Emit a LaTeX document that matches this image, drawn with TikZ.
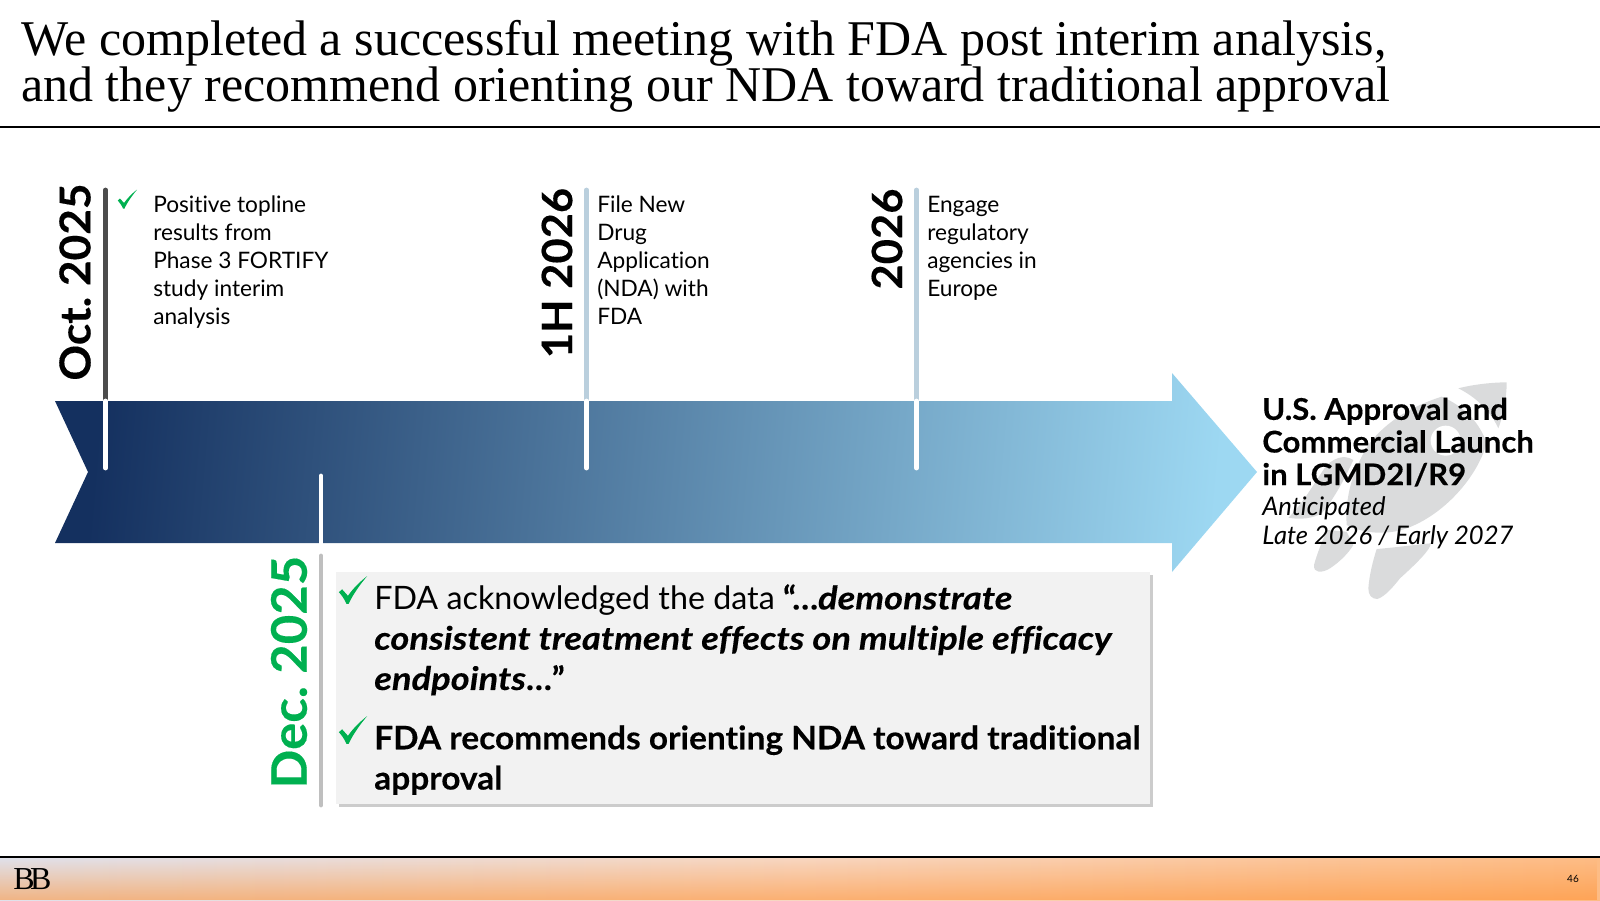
\documentclass[tikz,border=0pt]{standalone}
\usepackage{fontspec}
\setmainfont[Ligatures=NoCommon,BoldFeatures={FakeStretch=1.037,FakeBold=0.25},BoldItalicFeatures={FakeStretch=1.125,FakeBold=0.25}]{Lato}
\newfontfamily\titlefont{Liberation Serif}
\usetikzlibrary{positioning,shadows,fadings}

\definecolor{navy}{HTML}{14305F}
\definecolor{sky}{HTML}{9DD8F2}
\definecolor{okgreen}{HTML}{00B050}
\definecolor{paleline}{HTML}{BACFDD}
\definecolor{rocketgrey}{HTML}{DADBDC}
\definecolor{footleft}{HTML}{E0E1EB}
\definecolor{footmid}{HTML}{F8D6C0}
\definecolor{footright}{HTML}{FDBC85}
\definecolor{footlow}{HTML}{FF9030}

\tikzset{
	datelabel/.style={rotate=90, font=\fontsize{32}{32}\selectfont\bfseries, inner sep=0pt},
	smalltext/.style={anchor=north west, align=left, inner sep=0pt, font=\fontsize{17}{21}\selectfont},
	bigtext/.style={anchor=north west, align=left, inner sep=0pt, font=\fontsize{24.2}{30.2}\selectfont},
	tick/.style={line width=3.6pt, line cap=round},
	chk/.pic={\fill[okgreen] (-9.7,1.5) -- (-7.5,-0.5) -- (-3.5,4) .. controls (0,-1) and (5,-6) .. (9.7,-9.5) .. controls (5,-4) and (0,3) .. (-3,9.5) -- (-4.5,9.5) .. controls (-6,6) and (-8,3.5) .. (-9.7,1.5) -- cycle;}
}

\begin{document}
\frenchspacing
\begin{tikzpicture}[x=0.75pt,y=-0.75pt]
\useasboundingbox (0,0) rectangle (1600,900);

% title
\node[anchor=base west, inner sep=0pt, font=\fontsize{37.5}{37.5}\selectfont\titlefont](title1) at (21,55){We completed a successful meeting with FDA post interim analysis,};
\node[anchor=base west, inner sep=0pt, font=\fontsize{37.5}{37.5}\selectfont\titlefont](title2) at (21,101){and they recommend orienting our NDA toward traditional approval};
\coordinate (headL) at (0,127);
\coordinate (headR) at (1600,127);
\draw[line width=1pt] (headL) -- (headR);

% rocket
\begin{scope}[shift={(1290,375)},x=0.25pt,y=-0.25pt]
\fill[rocketgrey] (505,40) .. controls (550,28) and (610,22) .. (650,22) .. controls (650,70) and (640,120) .. (625,160) .. controls (600,105) and (555,65) .. (505,40) -- cycle;
\fill[rocketgrey] (455,65) .. controls (525,95) and (570,145) .. (590,205) .. controls (560,310) and (460,420) .. (350,460) .. controls (300,478) and (230,480) .. (170,450) .. controls (165,370) and (185,290) .. (235,210) .. controls (290,135) and (375,90) .. (455,65) -- cycle;
\fill[white] (467,197) circle (45);
\fill[rocketgrey] (190,255) .. controls (170,243) and (145,240) .. (110,270) .. controls (75,320) and (40,385) .. (-5,428) .. controls (30,435) and (70,430) .. (95,415) .. controls (130,375) and (165,310) .. (190,255) -- cycle;
\fill[rocketgrey] (112,465) .. controls (95,500) and (80,540) .. (72,570) .. controls (70,595) and (95,595) .. (120,580) .. controls (150,560) and (175,535) .. (190,510) -- (170,470) -- cycle;
\fill[rocketgrey] (260,522) .. controls (310,518) and (370,510) .. (422,505) .. controls (425,520) and (380,565) .. (330,610) .. controls (310,635) and (285,665) .. (262,672) .. controls (245,672) and (235,660) .. (235,640) .. controls (238,600) and (248,560) .. (260,522) -- cycle;
\end{scope}

% main arrow
\coordinate (arrowtail) at (55,401);
\coordinate (arrowtip) at (1257,472);
\shade[left color=navy, right color=sky, shading angle=85] (arrowtail) -- (1172,401) -- (1172,373) -- (arrowtip) -- (1172,572) -- (1172,543) -- (55,543) -- (88,472) -- cycle;

% ticks above
\coordinate (Oct1a) at (105.6,190);
\coordinate (Oct1b) at (105.6,401);
\coordinate (Oct1c) at (105.6,468);
\draw[tick, color=black!70] (Oct1a) -- (Oct1b);
\draw[tick, white] (Oct1b) -- (Oct1c);
\coordinate (H1a) at (586.5,190);
\coordinate (H1b) at (586.5,401);
\coordinate (H1c) at (586.5,468);
\draw[tick, paleline] (H1a) -- (H1b);
\draw[tick, white] (H1b) -- (H1c);
\coordinate (Yr1a) at (916.5,190);
\coordinate (Yr1b) at (916.5,401);
\coordinate (Yr1c) at (916.5,468);
\draw[tick, paleline] (Yr1a) -- (Yr1b);
\draw[tick, white] (Yr1b) -- (Yr1c);

% dates
\node[datelabel](Oct1) at (75,282){Oct. 2025};
\node[datelabel, font=\fontsize{31.5}{31.5}\selectfont\bfseries](H1) at (557,273){1H 2026};
\node[datelabel, font=\fontsize{31.5}{31.5}\selectfont\bfseries](Yr1) at (887,239){2026};
\node[datelabel, okgreen, font=\fontsize{36.8}{36.8}\selectfont\bfseries](Dec1) at (289,672){Dec. 2025};

% small lists
\node[smalltext](Oct1list) at (153,196){Positive topline\\results from\\Phase 3 FORTIFY\\study interim\\analysis};
\node[smalltext](H1list) at (597,196){File New\\Drug\\Application\\(NDA) with\\FDA};
\node[smalltext](Yr1list) at (927,196){Engage\\regulatory\\agencies in\\Europe};
\pic at (127.5,199) {chk};

% dec tick and box
\coordinate (Dec1a) at (321,476);
\coordinate (Dec1b) at (321,556);
\coordinate (Dec1c) at (321,805);
\draw[tick, white] (Dec1a) -- (Dec1b);
\draw[tick, color=black!25] (Dec1b) -- (Dec1c);
\node[anchor=north west, minimum width=814*0.75pt, minimum height=232*0.75pt, fill=black!5, inner sep=0pt, drop shadow={shadow xshift=2pt, shadow yshift=-2pt, opacity=.4}](Dec1box) at (336,572){};
\node[bigtext](Dec1list) at (374,584){FDA acknowledged the data \textbf{“…\textit{demonstrate}}\\\textbf{\textit{consistent treatment effects on multiple efficacy}}\\\textbf{\textit{endpoints}…”}};
\node[bigtext](Dec1list2) at (374,725){\textbf{FDA recommends orienting NDA toward traditional}\\\textbf{approval}};
\pic[scale=1.45] at (353,590) {chk};
\pic[scale=1.45] at (353,730) {chk};

% right label
\node[anchor=north west, align=left, inner sep=0pt, font=\fontsize{22.5}{24.5}\selectfont\bfseries](goal) at (1262,397.3){U.S. Approval and\\Commercial Launch\\in LGMD2I/R9};
\node[below=7pt of goal.south west, anchor=north west, align=left, inner sep=0pt, font=\fontsize{19.2}{21.5}\selectfont\itshape](goal2){Anticipated\\Late 2026 / Early 2027};

% footer
\coordinate (footL) at (0,857);
\coordinate (footR) at (1600,857);
\shade[left color=footleft, right color=footright, middle color=footmid] (0,858) rectangle (1600,900);
\fill[footlow, path fading=north, opacity=.55] (0,858) rectangle (1600,900);
\draw[line width=1pt] (footL) -- (footR);
\node[anchor=base west, inner sep=0pt, font=\fontsize{24}{24}\selectfont\titlefont](logo1) at (13,889){B\kern-3.3pt B};
\node[inner sep=0pt, font=\fontsize{7.5}{7.5}\selectfont](pagenum) at (1573,879){46};
\end{tikzpicture}
\end{document}
